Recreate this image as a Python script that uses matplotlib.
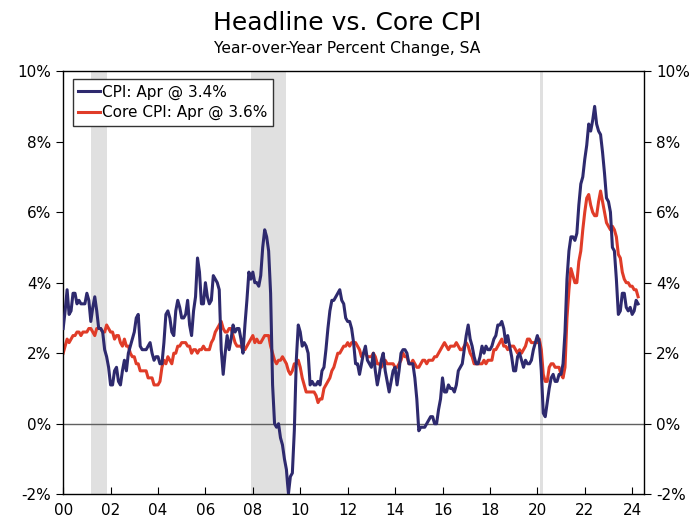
import numpy as np
import matplotlib.pyplot as plt
from matplotlib.ticker import FuncFormatter

# Monthly year-over-year % change, Jan 2000 - Apr 2024
cpi = [
    2.7, 3.2, 3.8, 3.1, 3.2, 3.7, 3.7, 3.4, 3.5, 3.4, 3.4, 3.4,   # 2000
    3.7, 3.5, 2.9, 3.3, 3.6, 3.2, 2.7, 2.7, 2.6, 2.1, 1.9, 1.6,   # 2001
    1.1, 1.1, 1.5, 1.6, 1.2, 1.1, 1.5, 1.8, 1.5, 2.0, 2.2, 2.4,   # 2002
    2.6, 3.0, 3.1, 2.2, 2.1, 2.1, 2.1, 2.2, 2.3, 2.0, 1.8, 1.9,   # 2003
    1.9, 1.7, 1.7, 2.3, 3.1, 3.2, 3.0, 2.6, 2.5, 3.2, 3.5, 3.3,   # 2004
    3.0, 3.0, 3.1, 3.5, 2.8, 2.5, 3.2, 3.6, 4.7, 4.3, 3.4, 3.4,   # 2005
    4.0, 3.6, 3.4, 3.5, 4.2, 4.1, 4.0, 3.8, 2.1, 1.4, 2.0, 2.5,   # 2006
    2.1, 2.4, 2.8, 2.6, 2.7, 2.7, 2.4, 2.0, 2.8, 3.5, 4.3, 4.1,   # 2007
    4.3, 4.0, 4.0, 3.9, 4.2, 5.0, 5.5, 5.3, 4.9, 3.7, 1.1, 0.0,   # 2008
    -0.1, 0.0, -0.4, -0.6, -1.0, -1.3, -2.0, -1.5, -1.4, -0.2, 1.8, 2.8,  # 2009
    2.6, 2.2, 2.3, 2.2, 2.0, 1.1, 1.2, 1.1, 1.1, 1.2, 1.1, 1.5,   # 2010
    1.6, 2.1, 2.7, 3.2, 3.5, 3.5, 3.6, 3.7, 3.8, 3.5, 3.4, 3.0,   # 2011
    2.9, 2.9, 2.7, 2.3, 1.7, 1.7, 1.4, 1.7, 2.0, 2.2, 1.8, 1.7,   # 2012
    1.6, 2.0, 1.5, 1.1, 1.4, 1.8, 2.0, 1.5, 1.2, 0.9, 1.2, 1.5,   # 2013
    1.6, 1.1, 1.5, 2.0, 2.1, 2.1, 2.0, 1.7, 1.7, 1.7, 1.3, 0.7,   # 2014
    -0.2, -0.1, -0.1, -0.1, 0.0, 0.1, 0.2, 0.2, 0.0, 0.0, 0.4, 0.7,  # 2015
    1.3, 0.9, 0.9, 1.1, 1.0, 1.0, 0.9, 1.1, 1.5, 1.6, 1.7, 2.1,   # 2016
    2.5, 2.8, 2.4, 2.2, 1.9, 1.7, 1.7, 1.9, 2.2, 2.0, 2.2, 2.1,   # 2017
    2.1, 2.2, 2.4, 2.5, 2.8, 2.8, 2.9, 2.7, 2.3, 2.5, 2.2, 1.9,   # 2018
    1.5, 1.5, 1.9, 2.0, 1.8, 1.6, 1.8, 1.7, 1.7, 1.8, 2.1, 2.3,   # 2019
    2.5, 2.3, 1.5, 0.3, 0.2, 0.6, 1.0, 1.3, 1.4, 1.2, 1.2, 1.4,   # 2020
    1.4, 1.7, 2.6, 4.1, 4.9, 5.3, 5.3, 5.2, 5.4, 6.2, 6.8, 7.0,   # 2021
    7.5, 7.9, 8.5, 8.3, 8.6, 9.0, 8.5, 8.3, 8.2, 7.7, 7.1, 6.4,   # 2022
    6.3, 6.0, 5.0, 4.9, 4.1, 3.1, 3.2, 3.7, 3.7, 3.3, 3.2, 3.3,   # 2023
    3.1, 3.2, 3.5, 3.4,                                           # 2024
]

core = [
    2.0, 2.2, 2.4, 2.3, 2.4, 2.5, 2.5, 2.6, 2.6, 2.5, 2.6, 2.6,   # 2000
    2.6, 2.7, 2.7, 2.6, 2.5, 2.7, 2.7, 2.7, 2.6, 2.6, 2.8, 2.7,   # 2001
    2.6, 2.6, 2.4, 2.5, 2.5, 2.3, 2.2, 2.4, 2.2, 2.2, 2.0, 1.9,   # 2002
    1.9, 1.7, 1.7, 1.5, 1.5, 1.5, 1.5, 1.3, 1.3, 1.3, 1.1, 1.1,   # 2003
    1.1, 1.2, 1.6, 1.8, 1.7, 1.9, 1.8, 1.7, 2.0, 2.0, 2.2, 2.2,   # 2004
    2.3, 2.3, 2.3, 2.2, 2.2, 2.0, 2.1, 2.1, 2.0, 2.1, 2.1, 2.2,   # 2005
    2.1, 2.1, 2.1, 2.3, 2.4, 2.6, 2.7, 2.8, 2.9, 2.7, 2.6, 2.6,   # 2006
    2.7, 2.7, 2.5, 2.3, 2.2, 2.2, 2.2, 2.1, 2.1, 2.2, 2.3, 2.4,   # 2007
    2.5, 2.3, 2.4, 2.3, 2.3, 2.4, 2.5, 2.5, 2.5, 2.2, 2.0, 1.8,   # 2008
    1.7, 1.8, 1.8, 1.9, 1.8, 1.7, 1.5, 1.4, 1.5, 1.7, 1.7, 1.8,   # 2009
    1.6, 1.3, 1.1, 0.9, 0.9, 0.9, 0.9, 0.9, 0.8, 0.6, 0.7, 0.7,   # 2010
    1.0, 1.1, 1.2, 1.3, 1.5, 1.6, 1.8, 2.0, 2.0, 2.1, 2.2, 2.2,   # 2011
    2.3, 2.2, 2.3, 2.3, 2.3, 2.2, 2.1, 1.9, 2.0, 2.0, 1.9, 1.9,   # 2012
    1.9, 2.0, 1.9, 1.7, 1.7, 1.6, 1.7, 1.8, 1.7, 1.7, 1.7, 1.7,   # 2013
    1.6, 1.6, 1.7, 1.8, 2.0, 1.9, 1.9, 1.7, 1.7, 1.8, 1.7, 1.6,   # 2014
    1.6, 1.7, 1.8, 1.8, 1.7, 1.8, 1.8, 1.8, 1.9, 1.9, 2.0, 2.1,   # 2015
    2.2, 2.3, 2.2, 2.1, 2.2, 2.2, 2.2, 2.3, 2.2, 2.1, 2.1, 2.2,   # 2016
    2.3, 2.2, 2.0, 1.9, 1.7, 1.7, 1.7, 1.7, 1.7, 1.8, 1.7, 1.8,   # 2017
    1.8, 1.8, 2.1, 2.1, 2.2, 2.3, 2.4, 2.2, 2.2, 2.1, 2.2, 2.2,   # 2018
    2.2, 2.1, 2.0, 2.1, 2.0, 2.1, 2.2, 2.4, 2.4, 2.3, 2.3, 2.3,   # 2019
    2.3, 2.4, 2.1, 1.4, 1.2, 1.2, 1.6, 1.7, 1.7, 1.6, 1.6, 1.6,   # 2020
    1.4, 1.3, 1.6, 3.0, 3.8, 4.4, 4.2, 4.0, 4.0, 4.6, 4.9, 5.5,   # 2021
    6.0, 6.4, 6.5, 6.2, 6.0, 5.9, 5.9, 6.3, 6.6, 6.3, 6.0, 5.7,   # 2022
    5.6, 5.5, 5.6, 5.5, 5.3, 4.8, 4.7, 4.3, 4.1, 4.0, 4.0, 3.9,   # 2023
    3.9, 3.8, 3.8, 3.6,                                           # 2024
]

recessions = [(2001.17, 2001.83), (2007.92, 2009.42), (2020.1, 2020.25)]
x_ticks = list(range(2000, 2025, 2))
y_ticks = [-2, 0, 2, 4, 6, 8, 10]

dates = 2000 + np.arange(len(cpi)) / 12.0

fig = plt.figure(figsize=(6.94, 5.23), dpi=100)
ax = fig.add_axes([0.091, 0.055, 0.837, 0.809])

for a, b in recessions:
    ax.axvspan(a, b, color="#e0e0e0", lw=0, zorder=0)

ax.axhline(0, color="#606060", lw=1.0, zorder=1)
ax.plot(dates, cpi, color="#2e2a6e", lw=2.2, label="CPI: Apr @ 3.4%", zorder=3)
ax.plot(dates, core, color="#e03c28", lw=2.2, label="Core CPI: Apr @ 3.6%", zorder=2)

ax.set_xlim(2000, 2024.5)
ax.set_ylim(-2, 10)
ax.set_xticks(x_ticks)
ax.set_xticklabels([f"{t % 100:02d}" for t in x_ticks])
ax.set_yticks(y_ticks)
ax.yaxis.set_major_formatter(FuncFormatter(lambda v, p: f"{v:.0f}%"))
ax.tick_params(axis="y", direction="out", length=5, labelsize=11, right=True, labelright=True)
ax.tick_params(axis="x", direction="in", length=5, labelsize=11, pad=6)
for s in ax.spines.values():
    s.set_linewidth(1.0)

leg = ax.legend(loc="upper left", bbox_to_anchor=(0.017, 0.981), borderaxespad=0,
                fontsize=11, handlelength=1.4, handletextpad=0.15, borderpad=0.35,
                labelspacing=0.35, fancybox=False, framealpha=1)
leg.get_frame().set_edgecolor("#333333")
leg.get_frame().set_linewidth(1.0)

fig.text(0.5, 0.956, "Headline vs. Core CPI", ha="center", va="center", fontsize=18)
fig.text(0.5, 0.907, "Year-over-Year Percent Change, SA", ha="center", va="center", fontsize=11.2)

fig.savefig("out.png", dpi=100)
